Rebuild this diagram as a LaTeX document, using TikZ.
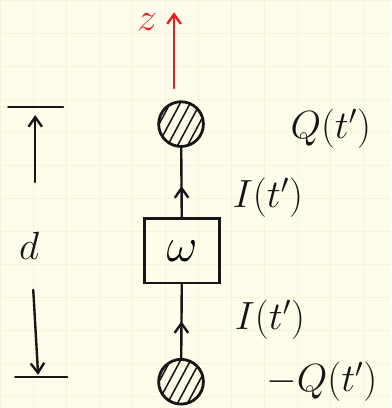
\documentclass[tikz,border=0pt]{standalone}
\usepackage{fix-cm}
\usetikzlibrary{arrows.meta,positioning,decorations.markings}
\definecolor{paper}{RGB}{254,253,236}
\definecolor{gridline}{RGB}{247,244,218}
\definecolor{pen}{RGB}{22,22,22}
\definecolor{marker}{RGB}{236,28,36}
\tikzset{
  >={Straight Barb[length=2.4mm,width=3.4mm]},
  stroke/.style={draw=#1,line width=1.7pt,line cap=round},
  stroke/.default=pen,
  blob/.style={circle,stroke,line width=2pt,minimum size=1.12cm,inner sep=0pt,
    path picture={
      \foreach \o in {-0.85,-0.6,-0.35,-0.1,0.15}
        \draw[pen,line width=1.1pt] ([xshift=\o cm]path picture bounding box.south) -- ++(0.6cm,1.12cm);
    }},
  cell/.style={rectangle,stroke,minimum width=1.88cm,minimum height=1.62cm,inner sep=0pt},
  lbl/.style={text=#1,inner sep=1pt,font=\fontsize{28}{30}\selectfont},
  lbl/.default=pen,
  midarrow/.style={postaction={decorate},
    decoration={markings,mark=at position #1 with {\arrow{>}}}},
}

\begin{document}
\begin{tikzpicture}[x=0.025cm,y=-0.025cm]
  % paper
  \fill[paper] (0,0) rectangle (391,408);
  \draw[gridline,line width=0.4pt,step=0.825cm] (0,0) grid (391,408);
  \useasboundingbox (0,0) rectangle (391,408);

  % chain
  \node[blob] (top) at (181,124) {};
  \node[cell] (w) at (182,251) {\fontsize{34}{36}\selectfont$\omega$};
  \node[blob] (bot) at (181,382) {};
  \draw[stroke,midarrow=0.5] (bot) -- (w);
  \draw[stroke,midarrow=0.45] (w) -- (top);

  % output
  \coordinate (zstart) at (174,88);
  \coordinate (zend) at (174,12);
  \draw[stroke=marker,->] (zstart) -- (zend);
  \node[lbl=marker] (z) at (147,22) {$z$};

  % labels
  \node[lbl] (qtop) at (331,129) {$Q(t')$};
  \node[lbl] (itop) at (268,198) {$I(t')$};
  \node[lbl] (ibot) at (270,320) {$I(t')$};
  \node[lbl] (qbot) at (322,382) {$-Q(t')$};

  % depth
  \coordinate (dtop) at (35,107);
  \coordinate (dbot) at (38,377);
  \coordinate (dup) at (35,182);
  \coordinate (ddown) at (33,290);
  \draw[stroke] ([shift={(-27,0)}]dtop) -- ([shift={(28,0)}]dtop);
  \draw[stroke] ([shift={(-23,0)}]dbot) -- ([shift={(29,0)}]dbot);
  \node[lbl] (d) at (29,246) {$d$};
  \draw[stroke,->,shorten >=0.2cm] (dup) -- (dtop);
  \draw[stroke,->,shorten >=0.05cm] (ddown) -- (dbot);
\end{tikzpicture}
\end{document}
